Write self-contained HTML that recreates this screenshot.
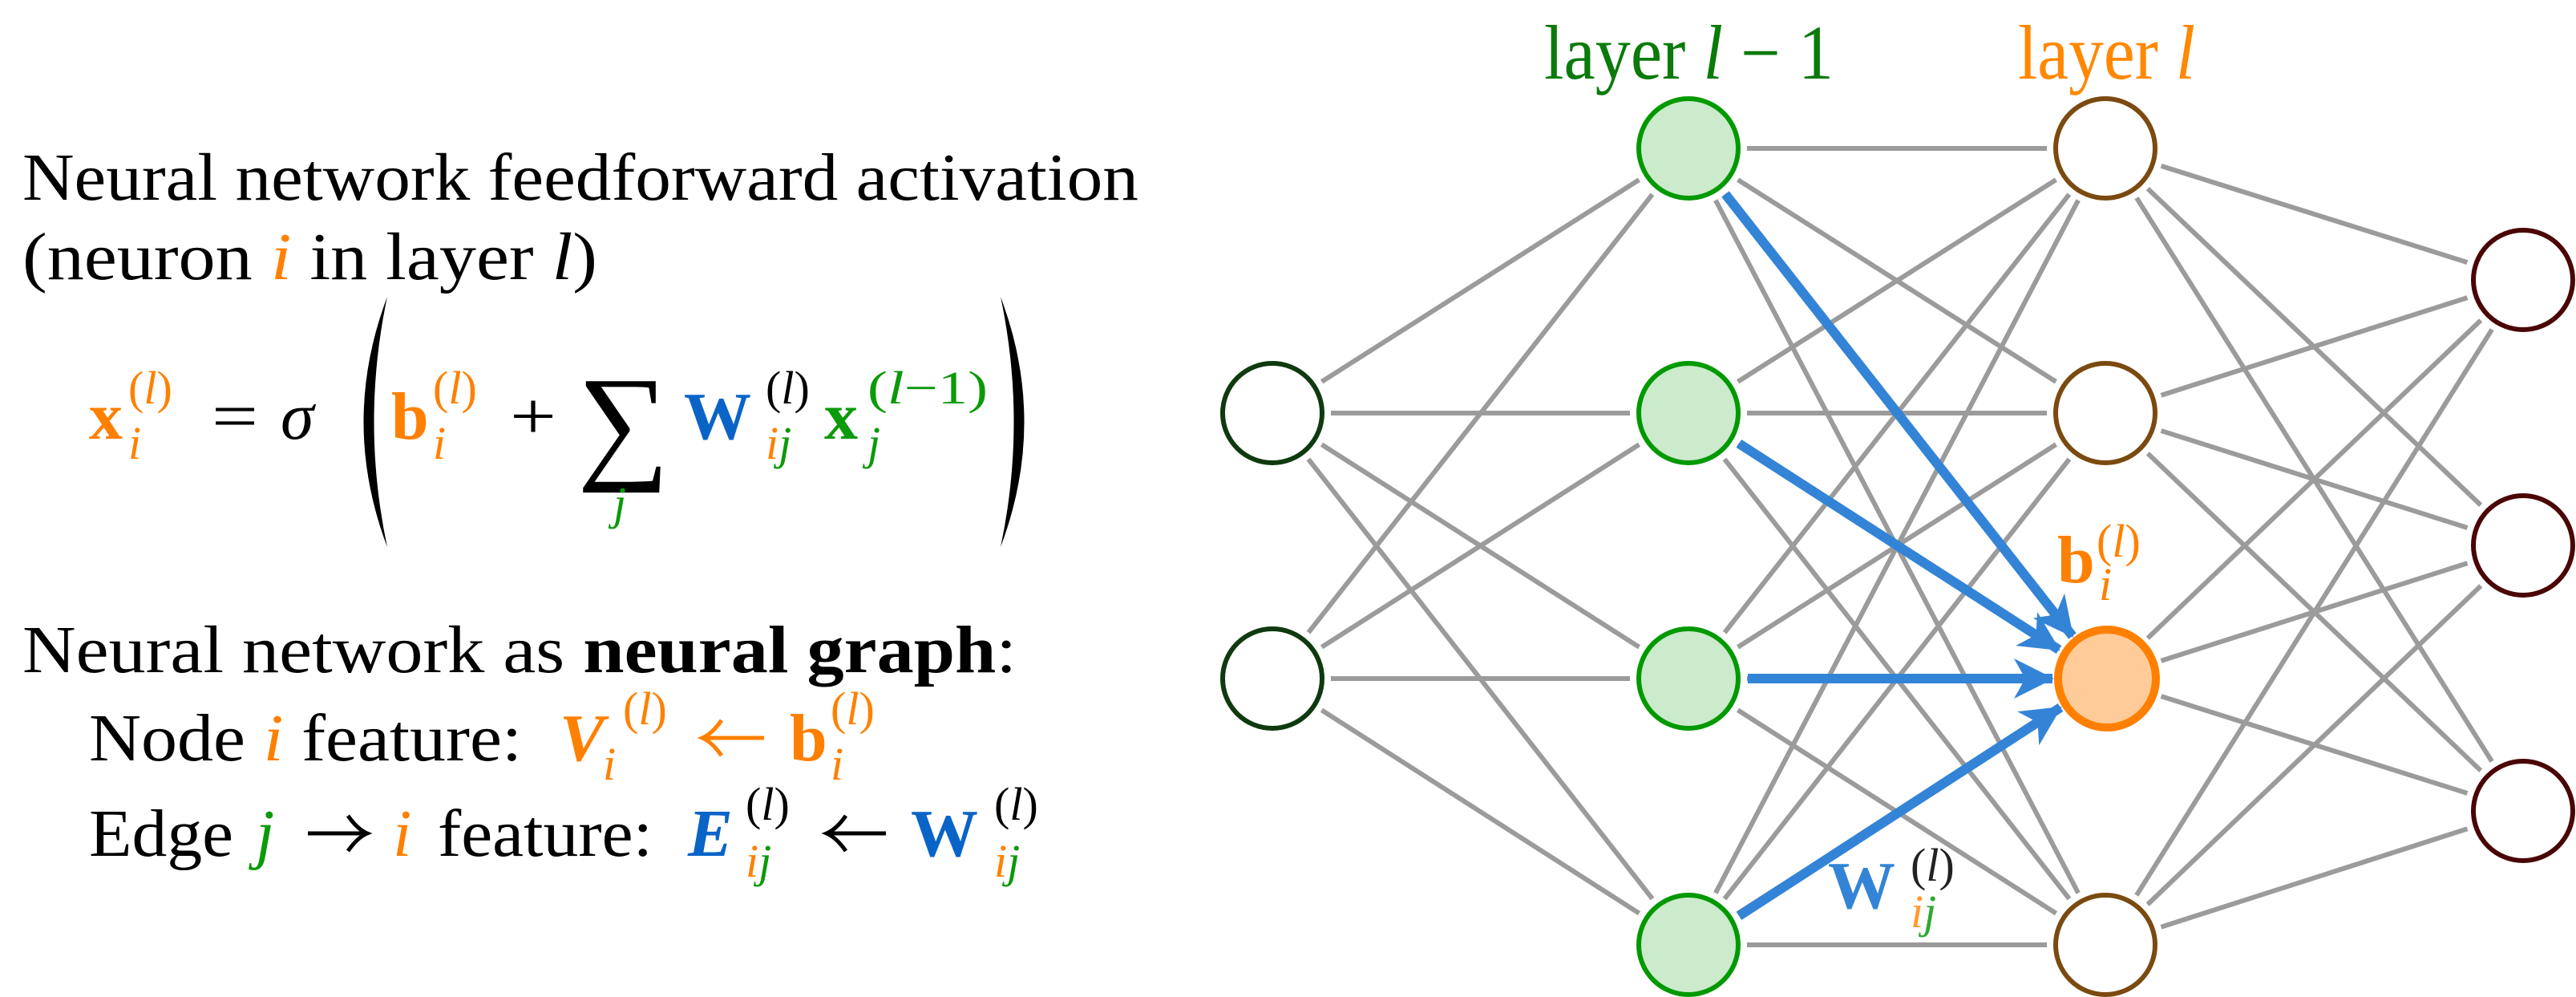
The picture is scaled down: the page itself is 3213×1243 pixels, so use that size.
<!DOCTYPE html>
<html><head><meta charset="utf-8"><style>
html,body{margin:0;padding:0;background:#fff}
svg{display:block}
text{font-family:"Liberation Serif",serif}
.it{font-style:italic}
.bf{font-weight:bold}
</style></head><body>
<svg width="3213" height="1243" viewBox="0 0 3213 1243" xmlns="http://www.w3.org/2000/svg">
<defs>
<marker id="ah" markerUnits="userSpaceOnUse" markerWidth="60" markerHeight="60" refX="48" refY="25" orient="auto">
<path d="M0,0 L50,25 L0,50 L14,25 z" fill="#3384d6"/>
</marker>
</defs>

<text x="28" y="249" font-size="84" textLength="1392" lengthAdjust="spacingAndGlyphs">Neural network feedforward activation</text>
<text x="28" y="348" font-size="84" textLength="717" lengthAdjust="spacingAndGlyphs">(neuron <tspan class="it" fill="#ff8000">i</tspan> in layer <tspan class="it">l</tspan>)</text>

<text x="111" y="547" font-size="84" class="bf" fill="#ff8000">x</text>
<text x="160" y="572" font-size="58" class="it" fill="#ff8000">i</text>
<text x="160" y="503" font-size="58" fill="#ff8000">(<tspan class="it">l</tspan>)</text>
<text x="264" y="547" font-size="84" textLength="58" lengthAdjust="spacingAndGlyphs">=</text>
<text x="350" y="547" font-size="84" class="it">σ</text>
<path d="M483,370 Q424,526 483,682 Q450,526 483,370 z" fill="#000"/>
<text x="488" y="547" font-size="84" class="bf" fill="#ff8000">b</text>
<text x="540" y="572" font-size="58" class="it" fill="#ff8000">i</text>
<text x="540" y="503" font-size="58" fill="#ff8000">(<tspan class="it">l</tspan>)</text>
<text x="636" y="547" font-size="84" textLength="58" lengthAdjust="spacingAndGlyphs">+</text>
<text x="720" y="580" font-size="160" textLength="115" lengthAdjust="spacingAndGlyphs">∑</text>
<text x="765" y="647" font-size="58" class="it" fill="#0a9a0a">j</text>
<text x="853" y="547" font-size="84" class="bf" fill="#0a64c8">W</text>
<text x="955" y="503" font-size="58">(<tspan class="it">l</tspan>)</text>
<text x="955" y="572" font-size="58" class="it"><tspan fill="#ff8000">i</tspan><tspan fill="#0a9a0a">j</tspan></text>
<text x="1028" y="547" font-size="84" class="bf" fill="#0a9a0a">x</text>
<text x="1082" y="503" font-size="58" fill="#0a9a0a" textLength="150" lengthAdjust="spacingAndGlyphs">(<tspan class="it">l</tspan>−1)</text>
<text x="1082" y="572" font-size="58" class="it" fill="#0a9a0a">j</text>
<path d="M1248,370 Q1307,526 1248,682 Q1281,526 1248,370 z" fill="#000"/>

<text x="28" y="838" font-size="84" textLength="1240" lengthAdjust="spacingAndGlyphs">Neural network as <tspan class="bf">neural graph</tspan>:</text>

<text x="111" y="948" font-size="84" textLength="540" lengthAdjust="spacingAndGlyphs">Node <tspan class="it" fill="#ff8000">i</tspan> feature:</text>
<text x="698" y="948" font-size="84" class="bf it" fill="#ff8000">V</text>
<text x="752" y="972" font-size="58" class="it" fill="#ff8000">i</text>
<text x="777" y="903" font-size="58" fill="#ff8000">(<tspan class="it">l</tspan>)</text>
<path d="M953,920 L878,920 M900,898 Q888,915 876,920 Q888,925 900,942" stroke="#ff8000" stroke-width="5" fill="none"/>
<text x="985" y="948" font-size="84" class="bf" fill="#ff8000">b</text>
<text x="1036" y="972" font-size="58" class="it" fill="#ff8000">i</text>
<text x="1036" y="903" font-size="58" fill="#ff8000">(<tspan class="it">l</tspan>)</text>

<text x="111" y="1067" font-size="84" textLength="180" lengthAdjust="spacingAndGlyphs">Edge</text>
<text x="319" y="1067" font-size="84" class="it" fill="#0a9a0a">j</text>
<path d="M384,1039 L456,1039 M434,1017 Q446,1034 458,1039 Q446,1044 434,1061" stroke="#000" stroke-width="5" fill="none"/>
<text x="490" y="1067" font-size="84" class="it" fill="#ff8000">i</text>
<text x="546" y="1067" font-size="84" textLength="268" lengthAdjust="spacingAndGlyphs">feature:</text>
<text x="858" y="1067" font-size="84" class="bf it" fill="#0a64c8">E</text>
<text x="930" y="1093" font-size="58" class="it"><tspan fill="#ff8000">i</tspan><tspan fill="#0a9a0a">j</tspan></text>
<text x="930" y="1022" font-size="58">(<tspan class="it">l</tspan>)</text>
<path d="M1105,1039 L1033,1039 M1055,1017 Q1043,1034 1031,1039 Q1043,1044 1055,1061" stroke="#000" stroke-width="5" fill="none"/>
<text x="1136" y="1067" font-size="84" class="bf" fill="#0a64c8">W</text>
<text x="1240" y="1093" font-size="58" class="it"><tspan fill="#ff8000">i</tspan><tspan fill="#0a9a0a">j</tspan></text>
<text x="1240" y="1022" font-size="58">(<tspan class="it">l</tspan>)</text>

<g stroke="#9b9b9b" stroke-width="6" fill="none">
<path d="M1587,515L2106,185M1587,515L2106,515M1587,515L2106,846M1587,515L2106,1178M1587,846L2106,185M1587,846L2106,515M1587,846L2106,846M1587,846L2106,1178"/>
<path d="M2106,185L2626,185M2106,185L2626,515M2106,185L2626,846M2106,185L2626,1178M2106,515L2626,185M2106,515L2626,515M2106,515L2626,846M2106,515L2626,1178M2106,846L2626,185M2106,846L2626,515M2106,846L2626,846M2106,846L2626,1178M2106,1178L2626,185M2106,1178L2626,515M2106,1178L2626,846M2106,1178L2626,1178"/>
<path d="M2626,185L3147,349M2626,185L3147,680M2626,185L3147,1011M2626,515L3147,349M2626,515L3147,680M2626,515L3147,1011M2626,846L3147,349M2626,846L3147,680M2626,846L3147,1011M2626,1178L3147,349M2626,1178L3147,680M2626,1178L3147,1011"/>
</g>

<g stroke="#fff" stroke-width="22" fill="#fff">
<circle cx="1587" cy="515" r="62"/><circle cx="1587" cy="846" r="62"/>
<circle cx="2106" cy="185" r="62"/><circle cx="2106" cy="515" r="62"/><circle cx="2106" cy="846" r="62"/><circle cx="2106" cy="1178" r="62"/>
<circle cx="2626" cy="185" r="62"/><circle cx="2626" cy="515" r="62"/><circle cx="2626" cy="846" r="62"/><circle cx="2626" cy="1178" r="62"/>
<circle cx="3147" cy="349" r="62"/><circle cx="3147" cy="680" r="62"/><circle cx="3147" cy="1011" r="62"/>
</g>
<g stroke="#0f3a0f" stroke-width="6" fill="#fff">
<circle cx="1587" cy="515" r="62"/><circle cx="1587" cy="846" r="62"/>
</g>
<g stroke="#009900" stroke-width="6" fill="#cceacc">
<circle cx="2106" cy="185" r="62"/><circle cx="2106" cy="515" r="62"/><circle cx="2106" cy="846" r="62"/><circle cx="2106" cy="1178" r="62"/>
</g>
<g stroke="#7a4a10" stroke-width="6" fill="#fff">
<circle cx="2626" cy="185" r="62"/><circle cx="2626" cy="515" r="62"/><circle cx="2626" cy="1178" r="62"/>
</g>
<circle cx="2628" cy="846" r="61" stroke="#ff8000" stroke-width="10" fill="#ffcc99"/>
<g stroke="#4a0505" stroke-width="6" fill="#fff">
<circle cx="3147" cy="349" r="62"/><circle cx="3147" cy="680" r="62"/><circle cx="3147" cy="1011" r="62"/>
</g>

<g stroke="#3384d6" stroke-width="12" fill="none" marker-end="url(#ah)">
<line x1="2152" y1="242" x2="2585" y2="793"/>
<line x1="2169" y1="553" x2="2568" y2="810"/>
<line x1="2180" y1="846" x2="2560" y2="846"/>
<line x1="2169" y1="1142" x2="2570" y2="882"/>
</g>

<text x="1926" y="98" font-size="96" fill="#0a7a0a" textLength="361" lengthAdjust="spacingAndGlyphs">layer <tspan class="it">l</tspan> − 1</text>
<text x="2517" y="98" font-size="96" fill="#ff8800" textLength="221" lengthAdjust="spacingAndGlyphs">layer <tspan class="it">l</tspan></text>

<text x="2566" y="726" font-size="84" class="bf" fill="#ff8000">b</text>
<text x="2618" y="748" font-size="58" class="it" fill="#ff8000">i</text>
<text x="2615" y="694" font-size="58" fill="#ff8000">(<tspan class="it">l</tspan>)</text>

<text x="2280" y="1132" font-size="84" class="bf" fill="#3384d6">W</text>
<text x="2383" y="1098" font-size="58" fill="#222">(<tspan class="it">l</tspan>)</text>
<text x="2383" y="1156" font-size="58" class="it"><tspan fill="#ff9a30">i</tspan><tspan fill="#30a830">j</tspan></text>
</svg>
</body></html>
